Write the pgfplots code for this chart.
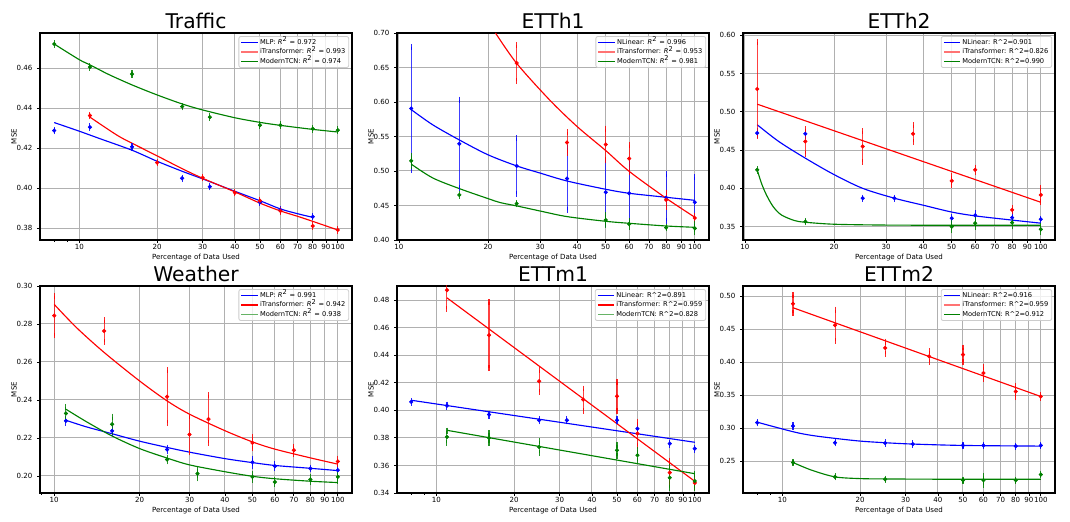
\documentclass[border=0pt]{standalone}
\usepackage{fontspec}
\setmainfont{DejaVu Sans}
\usepackage{pgfplots}
\pgfplotsset{compat=1.18}
\definecolor{cB}{RGB}{0,0,255}
\definecolor{cR}{RGB}{255,0,0}
\definecolor{cG}{RGB}{0,128,0}
\definecolor{gridc}{RGB}{176,176,176}
\definecolor{legc}{RGB}{204,204,204}
\newcommand\tks{\fontsize{5.3}{6.4}\selectfont}
\newcommand\lgs{\fontsize{5}{6}\selectfont}
\newcommand\Rsq{\textit{R}\textsuperscript{2}}
\newcommand\Rc{R\textasciicircum 2}
\pgfplotsset{
 panel/.style={
  width=234pt, height=155.25pt, scale only axis,
  anchor=south west,
  xtick={10,20,30,40,50,60,70,80,90,100},
  xticklabels={10,20,30,40,50,60,70,80,90,100},
  tick pos=left, tick align=outside,
  major tick length=2.2pt, minor tick length=1.4pt,
  every tick/.style={black, line width=0.6pt},
  grid=major, major grid style={gridc, line width=0.75pt},
  axis line style={line width=1pt},
  tick label style={font=\tks},
  xticklabel style={inner sep=1pt},
  yticklabel style={/pgf/number format/fixed, /pgf/number format/fixed zerofill, /pgf/number format/precision=2},
  scaled y ticks=false,
  xlabel={Percentage of Data Used}, ylabel={MSE},
  label style={font=\tks},
  xlabel style={at={(axis description cs:0.5,0)}, anchor=base, yshift=-14.4pt, inner sep=0pt},
  ylabel style={at={(axis description cs:-0.0833,0.5)}, anchor=center},
  every axis title shift=0pt,
  title style={font=\fontsize{15.2}{18}\selectfont, at={(axis description cs:0.5,1)}, anchor=base, yshift=3.2pt, inner sep=0pt},
  legend style={at={(axis description cs:1,1)}, anchor=north east, xshift=-2.2pt, yshift=-2.3pt,
    draw=legc, line width=0.6pt, fill=white, fill opacity=0.8, text opacity=1, rounded corners=1.5pt,
    font=\lgs, inner xsep=1.5pt, inner ysep=1pt, row sep=0.6pt,
    nodes={inner sep=1pt, text height=3.8pt, text depth=0.9pt}},
  legend cell align=left,
  legend image code/.code={\draw[##1, line width=0.9pt] (0pt,0pt) -- (12.5pt,0pt);},
 },
 fitl/.style={line width=0.85pt, smooth, forget plot, color=#1},
 ptsl/.style={only marks, mark=*, mark size=1.35pt, forget plot, color=#1,
   error bars/y dir=both, error bars/y explicit, error bars/error mark=-,
   error bars/error bar style={#1, line width=0.8pt, opacity=0.75},
   error bars/error mark options={#1, line width=0.8pt, mark size=2.2pt, opacity=0.85}},
}
\begin{document}
\begin{tikzpicture}
\path[use as bounding box] (0,0) rectangle (802.5pt,390.75pt);

% ---------------- Traffic
\begin{semilogxaxis}[panel, /pgf/number format/assume math mode=true, at={(30pt,210.75pt)}, title={Traffic},
  xmin=7.05, xmax=113.5, ymin=0.3742, ymax=0.4775,
  ytick={0.38,0.40,0.42,0.44,0.46}, minor xtick={8,9}]
\addlegendimage{cB}\addlegendentry{MLP: \Rsq{} = 0.972}
\addlegendimage{cR!55!white}\addlegendentry{iTransformer: \Rsq{} = 0.993}
\addlegendimage{cG}\addlegendentry{ModernTCN: \Rsq{} = 0.974}
\addplot[fitl=cB] coordinates {(8,0.4328)(10,0.4285)(12,0.4248)(16,0.419)(20,0.4135)(25,0.4085)(30,0.4047)(40,0.3985)(50,0.3938)(60,0.3897)(70,0.3873)(80,0.3855)};
\addplot[fitl=cR] coordinates {(11,0.4355)(14,0.4265)(16,0.4225)(20,0.4162)(25,0.4098)(30,0.405)(40,0.3982)(50,0.3926)(60,0.3887)(70,0.386)(80,0.3835)(100,0.3792)};
\addplot[fitl=cG] coordinates {(8,0.472)(10,0.4642)(11,0.4616)(13,0.4568)(16,0.4516)(20,0.4466)(25,0.4421)(30,0.4391)(40,0.4352)(50,0.4329)(60,0.4314)(80,0.4294)(100,0.4281)};
\addplot[ptsl=cB] coordinates {(8,0.4288)+-(0,0.0004)(11,0.4305)+-(0,0.0004)(16,0.4207)+-(0,0.0004)(25,0.405)+-(0,0.0004)(32,0.4008)+-(0,0.0004)(50,0.393)+-(0,0.0004)(60,0.3892)+-(0,0.0004)(80,0.3858)+-(0,0.0004)};
\addplot[ptsl=cR] coordinates {(11,0.4363)+-(0,0.0004)(20,0.4128)+-(0,0.0004)(30,0.4053)+-(0,0.0004)(40,0.3978)+-(0,0.0004)(50,0.3938)+-(0,0.0004)(60,0.3887)+-(0,0.0004)(80,0.3812)+-(0,0.0004)(100,0.3792)+-(0,0.0004)};
\addplot[ptsl=cG] coordinates {(8,0.472)+-(0,0.0004)(11,0.4605)+-(0,0.0004)(16,0.457)+-(0,0.0004)(25,0.4408)+-(0,0.0004)(32,0.4355)+-(0,0.0004)(50,0.4315)+-(0,0.0004)(60,0.4315)+-(0,0.0004)(80,0.4297)+-(0,0.0004)(100,0.429)+-(0,0.0004)};
\end{semilogxaxis}

% ---------------- ETTh1
\begin{semilogxaxis}[panel, /pgf/number format/assume math mode=true, at={(297.75pt,210.75pt)}, title={ETTh1},
  xmin=9.85, xmax=111.7, ymin=0.40, ymax=0.70,
  ytick={0.40,0.45,0.50,0.55,0.60,0.65,0.70}]
\addlegendimage{cB}\addlegendentry{NLinear: \Rsq{} = 0.996}
\addlegendimage{cR!55!white}\addlegendentry{iTransformer: \Rsq{} = 0.953}
\addlegendimage{cG}\addlegendentry{ModernTCN: \Rsq{} = 0.981}
\addplot[fitl=cB] coordinates {(11,0.589)(13,0.567)(16,0.545)(20,0.5235)(25,0.5074)(30,0.497)(37,0.4855)(50,0.4735)(60,0.4677)(80,0.4619)(100,0.4575)};
\addplot[fitl=cR] coordinates {(21.2,0.70)(25,0.656)(32.3,0.603)(40,0.5645)(50,0.5296)(60,0.4995)(80,0.4605)(100,0.433)};
\addplot[fitl=cG] coordinates {(11,0.510)(13,0.490)(16,0.4745)(20,0.460)(22,0.4542)(25,0.4494)(30,0.442)(37,0.4339)(50,0.4271)(60,0.4242)(80,0.4203)(100,0.4184)};
\addplot[ptsl=cB] coordinates {(11,0.5906)+-(0,0.089)(16,0.5394)+-(0,0.064)(25,0.5074)+-(0,0.0405)(37,0.489)+-(0,0.045)(50,0.4692)+-(0,0.046)(60,0.4677)+-(0,0.043)(80,0.4614)+-(0,0.034)(100,0.4547)+-(0,0.036)};
\addplot[ptsl=cR] coordinates {(25,0.6565)+-(0,0.0265)(37,0.5413)+-(0,0.0153)(50,0.5384)+-(0,0.023)(60,0.518)+-(0,0.02)(80,0.4581)+-(0,0.0107)(100,0.4319)+-(0,0.003)};
\addplot[ptsl=cG] coordinates {(11,0.5147)+-(0,0.007)(16,0.4653)+-(0,0.001)(25,0.4527)+-(0,0.001)(50,0.429)+-(0,0.007)(60,0.4232)+-(0,0.004)(80,0.4179)+-(0,0.001)(100,0.4169)+-(0,0.006)};
\end{semilogxaxis}

% ---------------- ETTh2
\begin{semilogxaxis}[panel, /pgf/number format/assume math mode=true, at={(557.25pt,210.75pt)}, title={ETTh2},
  xmin=9.85, xmax=111.7, ymin=0.3325, ymax=0.603,
  ytick={0.35,0.40,0.45,0.50,0.55,0.60}]
\addlegendimage{cB}\addlegendentry{NLinear: \Rc=0.901}
\addlegendimage{cR!55!white}\addlegendentry{iTransformer: \Rc=0.826}
\addlegendimage{cG}\addlegendentry{ModernTCN: \Rc=0.990}
\addplot[fitl=cB] coordinates {(11,0.4831)(13,0.4613)(16,0.4394)(20,0.418)(25,0.400)(32,0.3871)(40,0.378)(50,0.369)(60,0.364)(80,0.3585)(100,0.3545)};
\addplot[fitl=cR] coordinates {(11,0.510)(100,0.3818)};
\addplot[fitl=cG] coordinates {(11,0.4242)(11.37,0.4067)(11.82,0.3914)(12.45,0.3762)(13.27,0.3653)(14.71,0.3579)(16,0.3557)(20,0.3531)(30,0.352)(50,0.3518)(100,0.3518)};
\addplot[ptsl=cB] coordinates {(11,0.4722)+-(0,0.003)(16,0.4713)+-(0,0.003)(25,0.3871)+-(0,0.001)(32,0.3871)+-(0,0.001)(50,0.3609)+-(0,0.002)(60,0.3648)+-(0,0.003)(80,0.3618)+-(0,0.003)(100,0.3596)+-(0,0.001)};
\addplot[ptsl=cR] coordinates {(11,0.5298)+-(0,0.061)(16,0.4613)+-(0,0.016)(25,0.4547)+-(0,0.02)(37,0.4713)+-(0,0.011)(50,0.4098)+-(0,0.006)(60,0.4242)+-(0,0.003)(80,0.3718)+-(0,0.002)(100,0.3914)+-(0,0.009)};
\addplot[ptsl=cG] coordinates {(11,0.4242)+-(0,0.001)(16,0.3565)+-(0,0.001)(50,0.350)+-(0,0.005)(60,0.3544)+-(0,0.005)(80,0.3552)+-(0,0.005)(100,0.3465)+-(0,0.004)};
\end{semilogxaxis}

% ---------------- Weather
\begin{semilogxaxis}[panel, /pgf/number format/assume math mode=true, at={(30pt,21pt)}, title={Weather},
  xmin=8.91, xmax=112.2, ymin=0.191, ymax=0.30,
  ytick={0.20,0.22,0.24,0.26,0.28,0.30}, minor xtick={9}]
\addlegendimage{cB}\addlegendentry{MLP: \Rsq{} = 0.991}
\addlegendimage{cR}\addlegendentry{iTransformer: \Rsq{} = 0.942}
\addlegendimage{cG!60!white}\addlegendentry{ModernTCN: \Rsq{} = 0.938}
\addplot[fitl=cB] coordinates {(11,0.2293)(13,0.2258)(16,0.2222)(20,0.2183)(25,0.215)(30,0.2125)(40,0.2091)(50,0.207)(60,0.2055)(80,0.204)(100,0.2028)};
\addplot[fitl=cR] coordinates {(10,0.2903)(12,0.278)(15,0.265)(20,0.250)(25,0.2395)(30,0.2325)(40,0.2238)(50,0.2179)(60,0.2141)(80,0.2095)(100,0.2062)};
\addplot[fitl=cG] coordinates {(11,0.2351)(13,0.2285)(16,0.221)(20,0.2144)(25,0.2094)(30,0.2058)(40,0.2022)(50,0.1998)(60,0.1985)(80,0.1972)(100,0.1965)};
\addplot[ptsl=cB] coordinates {(11,0.229)+-(0,0.001)(16,0.2237)+-(0,0.001)(25,0.2139)+-(0,0.001)(50,0.2072)+-(0,0.002)(60,0.2051)+-(0,0.001)(80,0.2039)+-(0,0.0005)(100,0.203)+-(0,0.001)};
\addplot[ptsl=cR] coordinates {(10,0.2844)+-(0,0.0105)(15,0.2763)+-(0,0.0056)(25,0.2417)+-(0,0.014)(30,0.2218)+-(0,0.0095)(35,0.2299)+-(0,0.0125)(50,0.2174)+-(0,0.003)(70,0.2135)+-(0,0.002)(100,0.2076)+-(0,0.0015)};
\addplot[ptsl=cG] coordinates {(11,0.2329)+-(0,0.0035)(16,0.2272)+-(0,0.004)(25,0.2086)+-(0,0.001)(32,0.2012)+-(0,0.0025)(50,0.1995)+-(0,0.0015)(60,0.1968)+-(0,0.001)(80,0.1981)+-(0,0.0015)(100,0.1995)+-(0,0.002)};
\end{semilogxaxis}

% ---------------- ETTm1
\begin{semilogxaxis}[panel, /pgf/number format/assume math mode=true, at={(297.75pt,21pt)}, title={ETTm1},
  xmin=7.05, xmax=113.5, ymin=0.34, ymax=0.4902,
  ytick={0.34,0.36,0.38,0.40,0.42,0.44,0.46,0.48}, minor xtick={8,9}]
\addlegendimage{cB}\addlegendentry{NLinear: \Rc=0.891}
\addlegendimage{cR}\addlegendentry{iTransformer: \Rc=0.959}
\addlegendimage{cG!60!white}\addlegendentry{ModernTCN: \Rc=0.828}
\addplot[fitl=cB] coordinates {(8,0.4073)(100,0.3768)};
\addplot[fitl=cR] coordinates {(11,0.4816)(100,0.3485)};
\addplot[fitl=cG] coordinates {(11,0.3855)(100,0.354)};
\addplot[ptsl=cB] coordinates {(8,0.4061)+-(0,0.0008)(11,0.4034)+-(0,0.0008)(16,0.3969)+-(0,0.0008)(25,0.3928)+-(0,0.0008)(32,0.3928)+-(0,0.0008)(50,0.3928)+-(0,0.0008)(60,0.3867)+-(0,0.002)(80,0.3758)+-(0,0.0008)(100,0.3722)+-(0,0.0008)};
\addplot[ptsl=cR] coordinates {(11,0.4872)+-(0,0.0135)(16,0.4545)+-(0,0.024)(25,0.4211)+-(0,0.008)(37,0.4078)+-(0,0.008)(50,0.4102)+-(0,0.0105)(60,0.3831)+-(0,0.0087)(80,0.3548)+-(0,0.0085)(100,0.3473)+-(0,0.003)};
\addplot[ptsl=cG] coordinates {(11,0.3807)+-(0,0.0046)(16,0.38)+-(0,0.0035)(25,0.3734)+-(0,0.0045)(50,0.371)+-(0,0.004)(60,0.3674)+-(0,0.004)(80,0.3511)+-(0,0.0075)(100,0.3487)+-(0,0.005)};
\end{semilogxaxis}

% ---------------- ETTm2
\begin{semilogxaxis}[panel, /pgf/number format/assume math mode=true, at={(557.25pt,21pt)}, title={ETTm2},
  xmin=7.05, xmax=113.5, ymin=0.2018, ymax=0.5152,
  ytick={0.25,0.30,0.35,0.40,0.45,0.50}, minor xtick={8,9}]
\addlegendimage{cB}\addlegendentry{NLinear: \Rc=0.916}
\addlegendimage{cR!55!white}\addlegendentry{iTransformer: \Rc=0.959}
\addlegendimage{cG}\addlegendentry{ModernTCN: \Rc=0.912}
\addplot[fitl=cB] coordinates {(8,0.309)(11,0.2946)(13,0.289)(16,0.2845)(20,0.2804)(25,0.2779)(32,0.2759)(50,0.2738)(100,0.2728)};
\addplot[fitl=cR] coordinates {(11,0.4823)(100,0.3479)};
\addplot[fitl=cG] coordinates {(11,0.248)(13,0.2363)(16,0.2262)(20,0.2236)(25,0.2231)(40,0.2227)(100,0.2226)};
\addplot[ptsl=cB] coordinates {(8,0.3083)+-(0,0.001)(11,0.3032)+-(0,0.001)(16,0.2779)+-(0,0.001)(25,0.2774)+-(0,0.001)(32,0.2759)+-(0,0.001)(50,0.2738)+-(0,0.001)(60,0.2738)+-(0,0.001)(80,0.2728)+-(0,0.001)(100,0.2738)+-(0,0.001)};
\addplot[ptsl=cR] coordinates {(11,0.4883)+-(0,0.0137)(16,0.4559)+-(0,0.0236)(25,0.4214)+-(0,0.0095)(37,0.4087)+-(0,0.008)(50,0.4113)+-(0,0.0107)(60,0.3834)+-(0,0.009)(80,0.3555)+-(0,0.0085)(100,0.3479)+-(0,0.002)};
\addplot[ptsl=cG] coordinates {(11,0.248)+-(0,0.001)(16,0.2262)+-(0,0.001)(25,0.2226)+-(0,0.001)(50,0.2211)+-(0,0.001)(60,0.2211)+-(0,0.0068)(80,0.2211)+-(0,0.001)(100,0.2297)+-(0,0.0015)};
\end{semilogxaxis}
\end{tikzpicture}
\end{document}
